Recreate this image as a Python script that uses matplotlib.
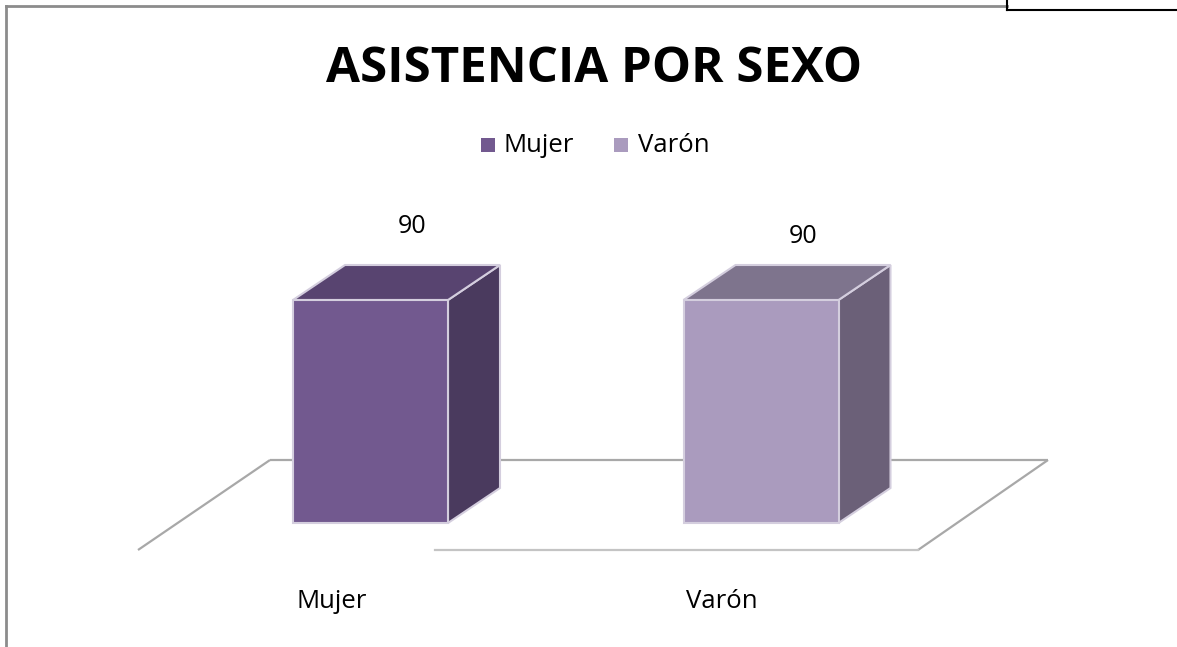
import matplotlib
matplotlib.use("Agg")
import matplotlib.pyplot as plt
from matplotlib.patches import Polygon, Rectangle
from matplotlib.lines import Line2D

categories = ["Mujer", "Varón"]
values = [90, 90]
title = "ASISTENCIA POR SEXO"
front_colors = ["#72598f", "#aa9bbe"]
side_colors = ["#4a3a5e", "#6b6078"]
top_colors = ["#584470", "#7e748d"]
edge_color = "#d4cede"

W, H = 1177, 647
fig = plt.figure(figsize=(W / 100, H / 100), dpi=100)
ax = fig.add_axes([0, 0, 1, 1])
# pixel mapping: category 0 centre at px 370.5, spacing 390.5px; value 0 at py 523, 90 at py 300
ppx = 390.5
ppy = 223 / 90.0
ax.set_xlim((0 - 370.5) / ppx, (W - 370.5) / ppx)
ax.set_ylim((523 - H) / ppy, (523 - 0) / ppy)
ax.axis("off")

def px(x):
    return (x - 370.5) / ppx

def py(y):
    return (523 - y) / ppy

# floor
floor_kw = dict(color="#a8a8a8", lw=1.6, solid_capstyle="butt")
ax.plot([px(270), px(1048)], [py(460), py(460)], **floor_kw, zorder=1)
ax.plot([px(270), px(138)], [py(460), py(550)], **floor_kw, zorder=1)
ax.plot([px(1048), px(918)], [py(460), py(550)], **floor_kw, zorder=1)
ax.plot([px(435), px(918)], [py(550), py(550)], color="#c4c4c4", lw=1.6, zorder=1)

width = 155 / ppx
dx = 52 / ppx
dy = 35 / ppy
xs = list(range(len(categories)))
bars = ax.bar(xs, values, width=width, color=front_colors, edgecolor=edge_color,
              linewidth=1.5, zorder=3)
for i, (x, v) in enumerate(zip(xs, values)):
    l, r = x - width / 2, x + width / 2
    side = Polygon([(r, 0), (r + dx, dy), (r + dx, v + dy), (r, v)], closed=True,
                   facecolor=side_colors[i], edgecolor=edge_color, lw=1.5, zorder=2)
    top = Polygon([(l, v), (l + dx, v + dy), (r + dx, v + dy), (r, v)], closed=True,
                  facecolor=top_colors[i], edgecolor=edge_color, lw=1.5, zorder=2)
    ax.add_patch(side)
    ax.add_patch(top)

# data labels
label_offsets = [15.7, 11.7]
for i, (x, v) in enumerate(zip(xs, values)):
    ax.text(x + 0.107, v + dy + label_offsets[i], str(v), ha="center", va="center",
            fontsize=18, family="Open Sans", color="#000000")

# category labels
for x, c in zip(xs, categories):
    ax.text(x - 0.1, py(601), c, ha="center", va="center", fontsize=18.5,
            family="Open Sans", color="#000000")

# title
fig.text(594 / W, 1 - 82 / H, title, ha="center", va="baseline", fontsize=35.5,
         fontweight="bold", family="Open Sans", color="#000000")

# legend
leg_y = 1 - 145 / H
for sx, tx, c, col in [(488, 504, categories[0], front_colors[0]),
                       (621, 638, categories[1], front_colors[1])]:
    fig.patches.append(Rectangle((sx / W - 7 / W, leg_y - 7 / H), 14 / W, 14 / H,
                                 transform=fig.transFigure, facecolor=col,
                                 edgecolor="none"))
    fig.text(tx / W, leg_y, c, ha="left", va="center", fontsize=18.5,
             family="Open Sans", color="#000000")

# outer border
fig.add_artist(Line2D([6 / W, 6 / W], [0, 1 - 6 / H], color="#8c8c8c", lw=2,
                      transform=fig.transFigure))
fig.add_artist(Line2D([6 / W, 1007 / W], [1 - 6 / H, 1 - 6 / H], color="#8c8c8c", lw=2,
                      transform=fig.transFigure))
fig.add_artist(Line2D([1007 / W, 1007 / W], [1, 1 - 10 / H], color="#000000", lw=1.5,
                      transform=fig.transFigure))
fig.add_artist(Line2D([1007 / W, 1], [1 - 10 / H, 1 - 10 / H], color="#000000", lw=1.5,
                      transform=fig.transFigure))

fig.savefig("out.png", dpi=100)
